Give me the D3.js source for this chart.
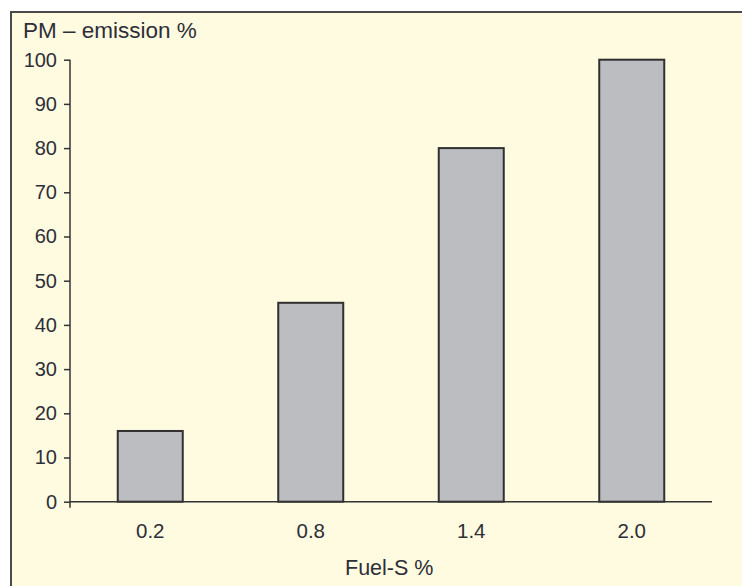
<!DOCTYPE html>
<html>
<head>
<meta charset="utf-8">
<script src="https://cdn.jsdelivr.net/npm/d3@7"></script>
<style>
  html, body { margin: 0; padding: 0; background: #ffffff; }
  svg { display: block; }
  text { font-family: "Liberation Sans", Arial, sans-serif; fill: #2e2e38; }
</style>
</head>
<body>
<svg id="chart" width="742" height="586"></svg>
<script>
const categories = ["0.2", "0.8", "1.4", "2.0"];
const values = [16, 45, 80, 100];
const yTicks = [0, 10, 20, 30, 40, 50, 60, 70, 80, 90, 100];
const yLabel = "PM – emission %";
const xLabel = "Fuel-S %";

(function () {
const svg = d3.select("#chart");
const W = 742, H = 586;

// panel background and frame
svg.append("rect")
  .attr("x", 11).attr("y", 12)
  .attr("width", W + 20).attr("height", H + 20)
  .attr("fill", "#fffbe0")
  .attr("stroke", "#4a4a4a")
  .attr("stroke-width", 2);

const mLeft = 70, mRight = 712, mTop = 59.7, mBottom = 501.7;

const x = d3.scaleBand()
  .domain(categories)
  .range([mLeft, mRight])
  .paddingInner(0.595)
  .paddingOuter(0.2975);

const y = d3.scaleLinear()
  .domain([0, 100])
  .range([mBottom, mTop]);

// bars
svg.append("g").selectAll("rect")
  .data(values)
  .join("rect")
  .attr("x", (d, i) => x(categories[i]))
  .attr("y", d => y(d))
  .attr("width", x.bandwidth())
  .attr("height", d => y(0) - y(d))
  .attr("fill", "#bcbdc1")
  .attr("stroke", "#303030")
  .attr("stroke-width", 2);

// y axis
const yAxis = d3.axisLeft(y)
  .tickValues(yTicks)
  .tickSize(6)
  .tickPadding(7)
  .tickFormat(d3.format("d"));
const gy = svg.append("g")
  .attr("transform", `translate(${mLeft},0)`)
  .call(yAxis);
gy.select(".domain").attr("d", `M0,${y(100)}V${mBottom + 6}`).attr("stroke", "#333").attr("stroke-width", 1.5);
gy.selectAll(".tick line").attr("stroke", "#333").attr("stroke-width", 1.5);
gy.selectAll(".tick text").attr("font-size", 20).attr("fill", "#2e2e38")
  .style("font-family", '"Liberation Sans", Arial, sans-serif');

// x axis
const xAxis = d3.axisBottom(x).tickSize(0).tickPadding(22);
const gx = svg.append("g")
  .attr("transform", `translate(0,${mBottom})`)
  .call(xAxis);
gx.select(".domain").attr("d", `M${mLeft},0H${mRight}`).attr("stroke", "#333").attr("stroke-width", 1.5);
gx.selectAll(".tick text").attr("font-size", 20.5).attr("fill", "#2e2e38")
  .style("font-family", '"Liberation Sans", Arial, sans-serif');

// labels
svg.append("text")
  .attr("x", 23).attr("y", 38)
  .attr("font-size", 22.5)
  .text(yLabel);

svg.append("text")
  .attr("x", 345).attr("y", 575)
  .attr("font-size", 21.5)
  .text(xLabel);
})();
</script>
</body>
</html>
